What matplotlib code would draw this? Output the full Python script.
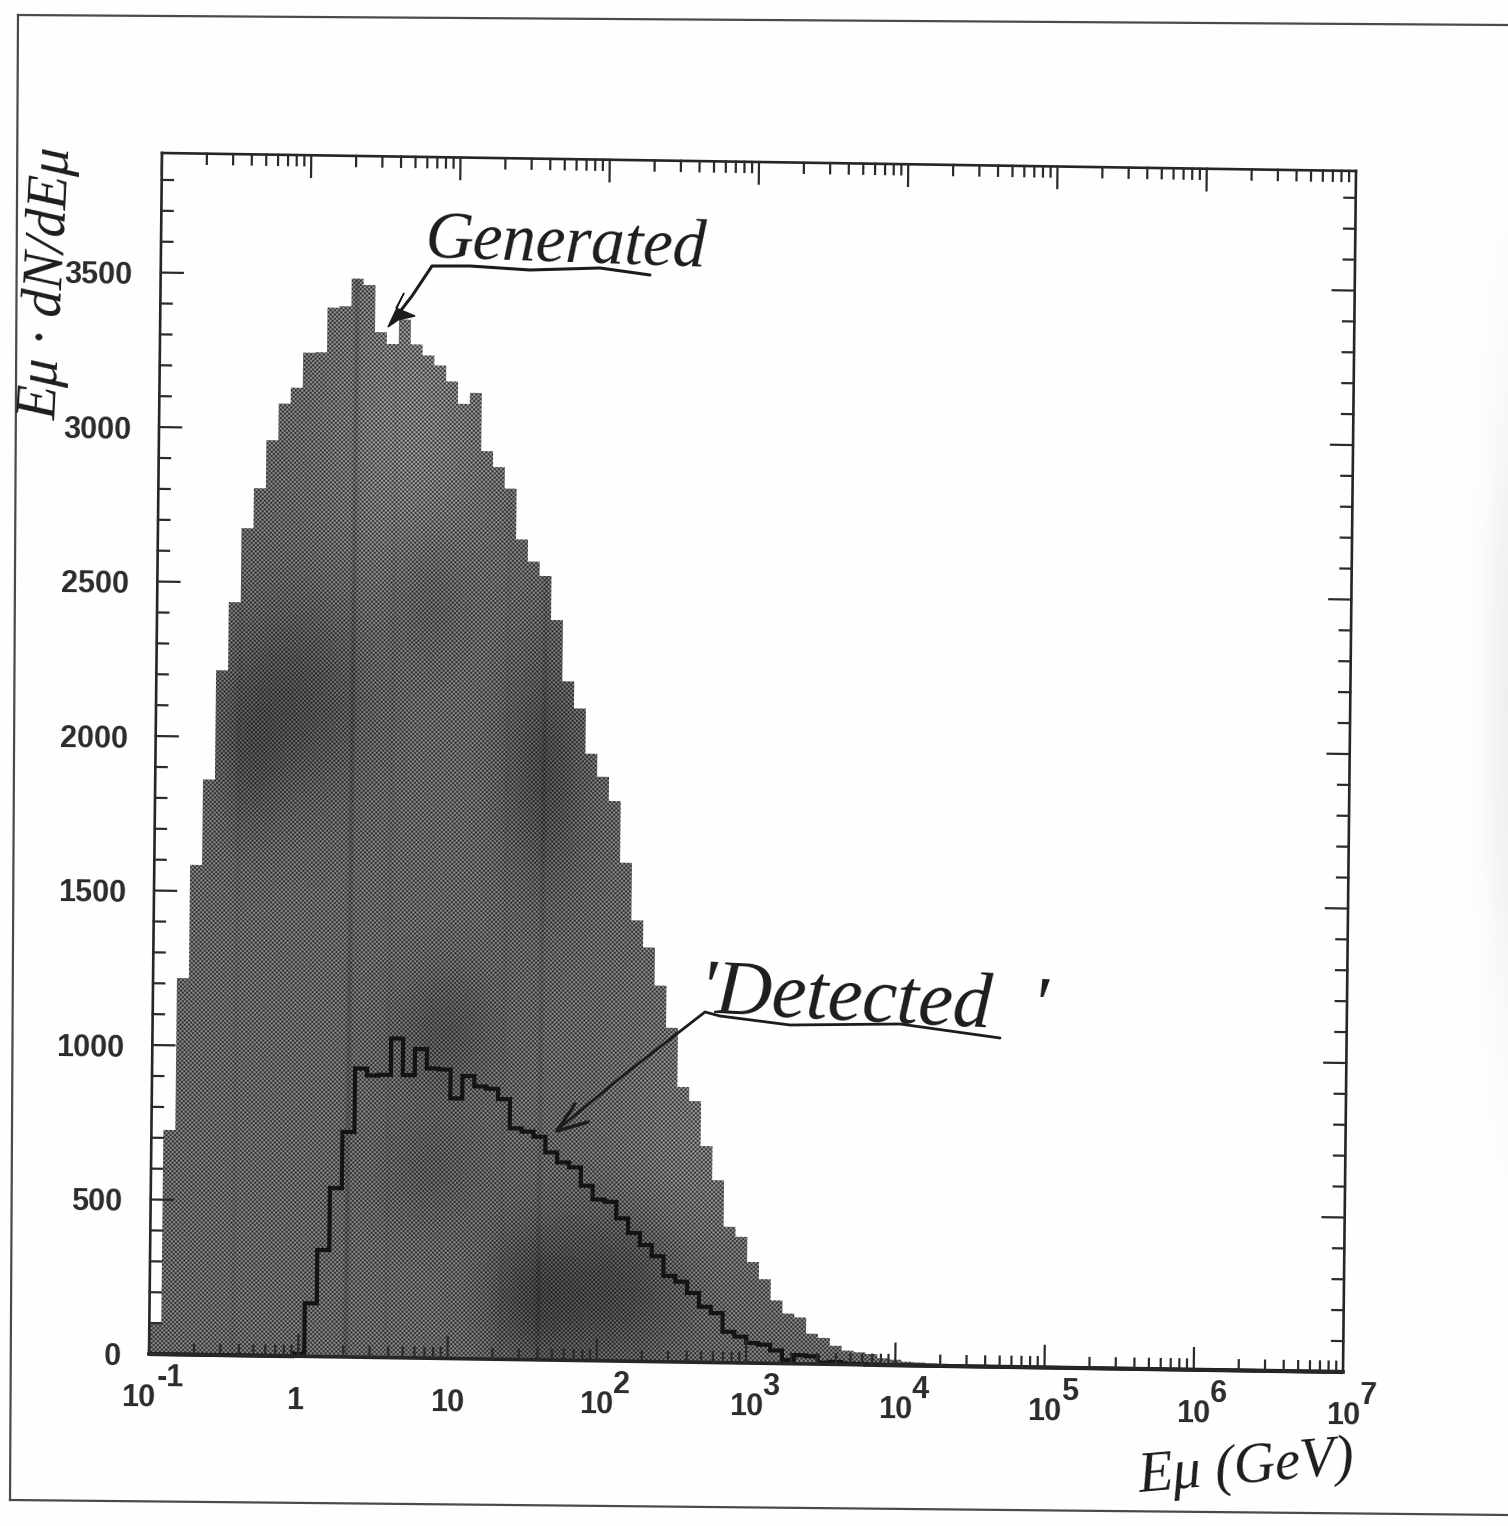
import numpy as np
import matplotlib
matplotlib.use('Agg')
from matplotlib import pyplot as plt
from matplotlib.transforms import Affine2D, blended_transform_factory

W, H = 1508, 1526

#Histogram contents, 100 log bins from 0.1 to 1e7 GeV
generated = [104, 726, 1218, 1585, 1862, 2216, 2437, 2677, 2807, 2963,
             3082, 3134, 3248, 3250, 3395, 3400, 3490, 3470, 3318, 3280,
             3360, 3280, 3245, 3213, 3162, 3090, 3126, 2938, 2887, 2818,
             2654, 2583, 2537, 2395, 2197, 2110, 1964, 1890, 1812, 1613,
             1427, 1340, 1217, 1081, 890, 845, 700, 590, 440, 408,
             327, 272, 204, 162, 150, 98, 85, 60, 45, 40,
             35, 22, 18, 12, 10, 8, 7, 5, 3, 3,
             2, 2, 1, 1, 1, 0, 0, 0, 0, 0,
             0, 0, 0, 0, 0, 0, 0, 0, 0, 0,
             0, 0, 0, 0, 0, 0, 0, 0, 0, 0]
detected = [0, 0, 0, 0, 0, 0, 0, 0, 0, 0,
            0, 0, 8, 172, 345, 546, 728, 934, 912, 915,
            1033, 915, 1000, 938, 935, 842, 915, 882, 875, 842,
            748, 738, 722, 672, 640, 625, 566, 522, 515, 462,
            415, 377, 341, 278, 260, 224, 180, 160, 100, 85,
            65, 60, 42, 12, 28, 25, 5, 8, 3, 2,
            1, 0, 0, 0, 0, 0, 0, 0, 0, 0,
            0, 0, 0, 0, 0, 0, 0, 0, 0, 0,
            0, 0, 0, 0, 0, 0, 0, 0, 0, 0,
            0, 0, 0, 0, 0, 0, 0, 0, 0, 0]
edges = np.logspace(-1, 7, 101)

y_major = [0, 500, 1000, 1500, 2000, 2500, 3000, 3500]
y_minor = [v for v in range(100, 3900, 100) if v % 500 != 0]
x_major = [0.1, 1, 10, 1e2, 1e3, 1e4, 1e5, 1e6, 1e7]
x_labels = [('10', '-1'), ('1', ''), ('10', ''), ('10', '2'), ('10', '3'),
            ('10', '4'), ('10', '5'), ('10', '6'), ('10', '7')]

ink = '#2b2b2b'
sans = dict(family='Liberation Sans', weight='bold', color=ink)
hand = dict(family='Liberation Serif', style='italic', color='#1c1c1c')

fig = plt.figure(figsize=(W / 100, H / 100), dpi=100, facecolor='#fefefe')

#Page axes in pixel coordinates, holds the halftone image
page = fig.add_axes([0, 0, 1, 1], zorder=0)
page.axis('off')

#Chart axes, the scan is slightly tilted so everything goes through tilt
ax = fig.add_axes([0.1, 0.1, 0.8, 0.8], zorder=1)
ax.set_xscale('log')
ax.set_xlim(0.1, 1e7)
ax.set_ylim(0, 3887)
ax.axis('off')

paper = page.transData
scan = Affine2D.from_values(1194, 18, 13, -1201, 149, 1354) + paper
to_scan = ax.transAxes.inverted() + scan
tilt = ax.transData + to_scan
tilt_x = blended_transform_factory(ax.transData, ax.transAxes) + to_scan
tilt_y = blended_transform_factory(ax.transAxes, ax.transData) + to_scan

yy, xx = np.mgrid[0:H, 0:W]

#Faint shadow along the right edge of the sheet
edge_shadow = 0.995 - 0.06 * np.exp(-((xx - 1510) / 25.0) ** 2 - ((yy - 700) / 320.0) ** 2)
page.imshow(edge_shadow, cmap='gray', vmin=0, vmax=1, extent=(0, W, H, 0),
            aspect='auto', interpolation='bilinear', zorder=0)

#Halftone screen with the darker patches of the photocopy
u = (xx + yy * 0.011) * 2 * np.pi / 4.25
v = (yy - xx * 0.011) * 2 * np.pi / 4.25
screen = 0.37 + 0.23 * np.cos(u) * np.cos(v)
shade = np.ones((H, W))
patches = [(295, 700, 70, 100, 0.24), (545, 770, 40, 120, 0.26),
           (445, 1030, 50, 60, 0.18), (610, 1290, 80, 80, 0.30),
           (530, 1300, 45, 70, 0.22), (430, 1170, 50, 60, 0.12),
           (250, 760, 30, 80, 0.15), (430, 600, 40, 70, 0.12)]
for cx, cy, sx, sy, amount in patches:
    shade -= amount * np.exp(-((xx - cx) / sx) ** 2 - ((yy - cy) / sy) ** 2)
for cx, amount in [(345, 0.16), (537, 0.1), (385, 0.04), (500, 0.04), (232, 0.05)]:
    shade -= amount * np.exp(-((xx - cx + (yy - 1354) * 0.011) / 2.5) ** 2)
lighter = 1 + 0.2 * np.exp(-((xx - 410) / 80.0) ** 2 - ((yy - 420) / 180.0) ** 2)
lighter += 0.12 * np.exp(-((xx - 690) / 70.0) ** 2 - ((yy - 1150) / 150.0) ** 2)
image = page.imshow(screen * shade * lighter, cmap='gray', vmin=0, vmax=1, zorder=1,
                    extent=(0, W, H, 0), aspect='auto', interpolation='nearest')
page.set_xlim(0, W)
page.set_ylim(H, 0)

fill = ax.stairs(generated, edges, baseline=0, fill=True, transform=tilt,
                 facecolor='none', edgecolor='none', clip_on=False)
image.set_clip_path(fill)

ax.stairs(detected, edges, baseline=0, transform=tilt, color='#141414',
          linewidth=3.0, clip_on=False, joinstyle='miter')

#Frame
for xs, ys, lw in [([0, 1], [0, 0], 2.6), ([1, 1], [0, 1], 1.9), ([0, 1], [1, 1], 1.9), ([0, 0], [0, 1], 1.9)]:
    ax.plot(xs, ys, transform=scan, color='#262626', linewidth=lw, clip_on=False,
            solid_capstyle='projecting')

#Ticks on all four sides, pointing inwards
for k in range(-1, 7):
    for m in range(1, 10):
        x = m * 10.0 ** k
        size = 0.018 if m == 1 else 0.0085
        ax.plot([x, x], [0, size], transform=tilt_x, color=ink, linewidth=1.6, clip_on=False)
        ax.plot([x, x], [1, 1 - size], transform=tilt_x, color=ink, linewidth=1.6, clip_on=False)
for y in y_major + y_minor:
    size = 0.0185 if y in y_major else 0.0095
    ax.plot([0, size], [y, y], transform=tilt_y, color=ink, linewidth=1.6, clip_on=False)
    ax.plot([1, 1 - size], [y, y], transform=tilt_y, color=ink, linewidth=1.6, clip_on=False)

#Tick labels
for y in y_major:
    ax.annotate(str(y), xy=(0.1, y), xycoords=tilt, xytext=(-28, 0),
                textcoords='offset pixels', ha='right', va='center_baseline',
                fontsize=22, rotation=-0.8, rotation_mode='anchor', **sans)
for x, (base, power) in zip(x_major, x_labels):
    dx = -11 if power == '-1' else (-3 if base == '1' else 0)
    ax.annotate(base, xy=(x, 0), xycoords=tilt, xytext=(dx, -41),
                textcoords='offset pixels', ha='center', va='center_baseline',
                fontsize=22, rotation=-0.8, rotation_mode='anchor', **sans)
    if power:
        ax.annotate(power, xy=(x, 0), xycoords=tilt, xytext=(dx + 33 if power == '-1' else 25, -21),
                    textcoords='offset pixels', ha='center', va='center_baseline',
                    fontsize=22, rotation=-0.8, rotation_mode='anchor', **sans)

#Handwritten notes
ax.text(424, 258, 'Generated', transform=paper, fontsize=48, rotation=-2, rotation_mode='anchor',
        ha='left', va='baseline', **hand)
ax.text(698, 1012, "'Detected  '", transform=paper, fontsize=56, rotation=-3, rotation_mode='anchor',
        ha='left', va='baseline', **hand)
ax.text(1140, 1492, 'Eμ (GeV)', transform=paper, fontsize=41, rotation=5, rotation_mode='anchor',
        ha='left', va='baseline', **hand)
ax.text(56, 420, 'Eμ · dN/dEμ', transform=paper, fontsize=40, rotation=87, rotation_mode='anchor',
        ha='left', va='baseline', **hand)

#Underlines and arrows drawn by hand
pen = dict(transform=paper, color='#1c1c1c', clip_on=False, solid_capstyle='round')
ax.plot([392, 412, 432, 470, 530, 600, 650], [322, 296, 266, 266, 270, 268, 275], linewidth=2.2, **pen)
ax.fill([388, 404, 396, 415, 398], [327, 293, 308, 316, 320], transform=paper, color='#1c1c1c', clip_on=False)
ax.plot([557, 625, 705, 720, 790, 900, 1000], [1130, 1074, 1012, 1016, 1025, 1024, 1038], linewidth=2.0, **pen)
ax.plot([575, 557, 588], [1104, 1131, 1122], linewidth=2.4, **pen)

#Edge of the scanned sheet
sheet = dict(transform=paper, color='#4a4a4a', linewidth=1.6, clip_on=False)
ax.plot([18, 1508], [15, 25], **sheet)
ax.plot([18, 10], [15, 1500], **sheet)
ax.plot([10, 1508], [1500, 1515], **sheet)

fig.savefig('out.png', dpi=100, facecolor=fig.get_facecolor())
